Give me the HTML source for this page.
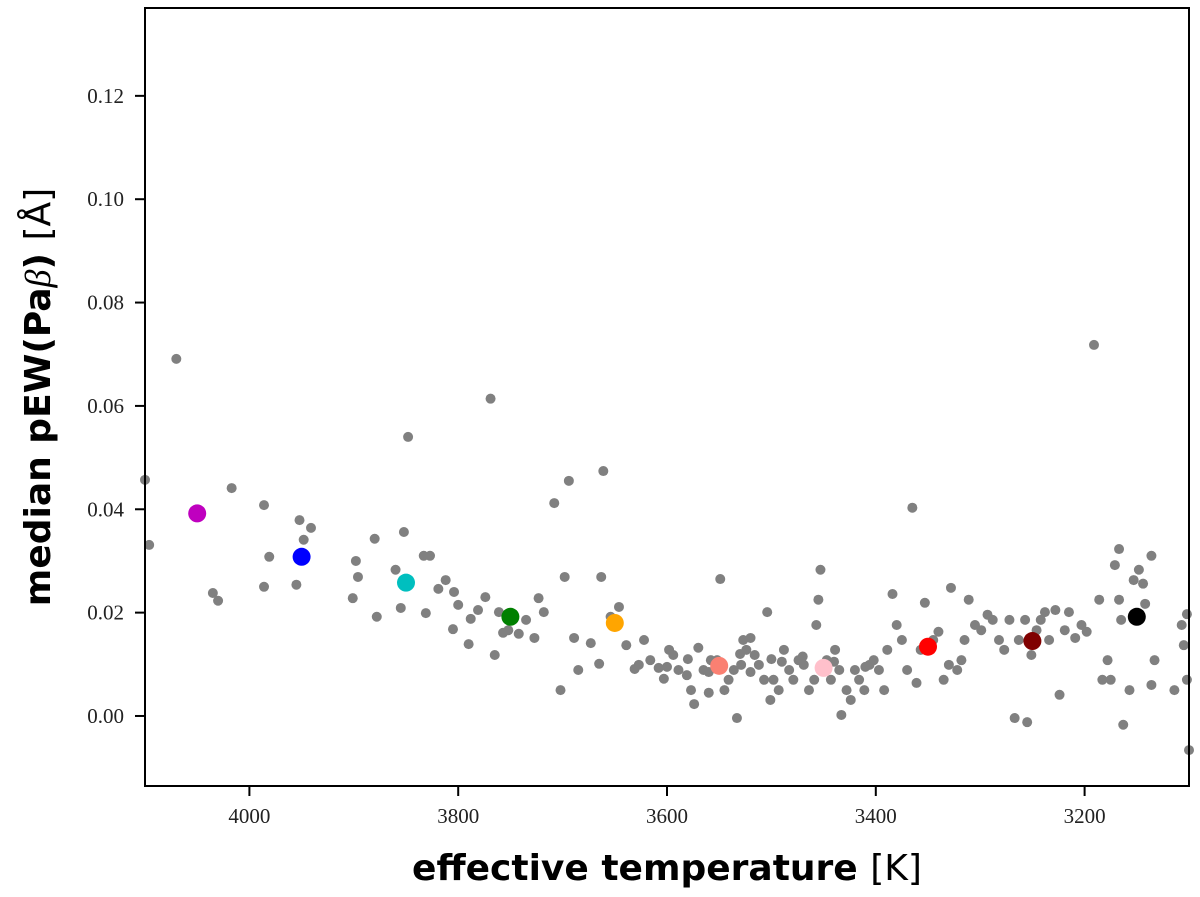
<!DOCTYPE html>
<html><head><meta charset="utf-8"><style>
html,body{margin:0;padding:0;background:#fff;}
svg{display:block;}
.tick{font-family:"Liberation Serif",serif;font-size:21px;fill:#222;}
.lab{font-family:"DejaVu Sans","Liberation Sans",sans-serif;font-weight:bold;fill:#000;}
</style></head><body>
<svg id="chart" width="1200" height="897">
<g id="grey"></g>
<g id="col"></g>
<rect x="145" y="8" width="1044" height="778" fill="none" stroke="#000" stroke-width="2"/>
<g id="axes"></g>
<text class="lab" x="667" y="880" font-size="36" text-anchor="middle">effective temperature <tspan font-weight="normal">[K]</tspan></text>
<text class="lab" transform="translate(50,397) rotate(-90)" font-size="36" text-anchor="middle">median pEW(Pa<tspan font-style="italic" font-weight="normal" font-family="Liberation Serif,serif">β</tspan>) <tspan font-weight="normal">[Å]</tspan></text>
</svg>
<script>
const greyT=[4100,4096,4070,4035,4030,4017,3986,3986,3981,3955,3952,3948,3941,3901,3898,3896,3880,3878,3860,3855,3852,3848,3833,3831,3827,3819,3812,3804,3805,3800,3790,3788,3781,3774,3769,3765,3761,3757,3752,3742,3735,3727,3723,3718,3708,3702,3698,3694,3689,3685,3673,3665,3663,3661,3654,3652,3646,3639,3631,3627,3622,3616,3608,3603,3598,3594,3589,3581,3577,3574,3570,3565,3560,3558,3552,3549,3545,3541,3536,3533,3529,3527,3524,3520,3516,3512,3507,3504,3501,3498,3493,3488,3483,3479,3474,3469,3464,3459,3457,3455,3453,3447,3443,3439,3435,3433,3428,3424,3420,3416,3411,3406,3402,3397,3392,3389,3384,3380,3375,3370,3365,3361,3357,3353,3345,3340,3335,3330,3328,3322,3318,3315,3311,3305,3299,3293,3288,3282,3277,3272,3267,3263,3257,3255,3251,3246,3242,3238,3234,3228,3224,3219,3215,3209,3203,3198,3191,3186,3183,3178,3175,3171,3167,3165,3163,3157,3153,3148,3142,3136,3133,3114,3107,3105,3102,3100,3102,3136,3167,3144,3580,3530,3490,3470,3440,3410,3520,3560,3600,3500];
const greyP=[0.0457,0.0331,0.0691,0.0238,0.0223,0.0441,0.0408,0.0250,0.0308,0.0254,0.0379,0.0341,0.0364,0.0228,0.0300,0.0269,0.0343,0.0192,0.0283,0.0209,0.0356,0.0540,0.0310,0.0199,0.0310,0.0246,0.0263,0.0240,0.0168,0.0215,0.0139,0.0188,0.0205,0.0230,0.0614,0.0118,0.0201,0.0161,0.0166,0.0159,0.0186,0.0151,0.0228,0.0201,0.0412,0.0050,0.0269,0.0455,0.0151,0.0089,0.0141,0.0101,0.0269,0.0474,0.0192,0.0174,0.0211,0.0137,0.0091,0.0099,0.0147,0.0108,0.0093,0.0072,0.0128,0.0118,0.0089,0.0079,0.0050,0.0023,0.0132,0.0089,0.0045,0.0108,0.0108,0.0265,0.0050,0.0070,0.0089,-0.0004,0.0099,0.0147,0.0128,0.0151,0.0118,0.0099,0.0070,0.0201,0.0031,0.0070,0.0050,0.0128,0.0089,0.0070,0.0108,0.0099,0.0050,0.0070,0.0176,0.0225,0.0283,0.0108,0.0070,0.0128,0.0089,0.0002,0.0050,0.0031,0.0089,0.0070,0.0050,0.0099,0.0108,0.0089,0.0050,0.0128,0.0236,0.0176,0.0147,0.0089,0.0403,0.0064,0.0128,0.0219,0.0147,0.0163,0.0070,0.0099,0.0248,0.0089,0.0108,0.0147,0.0225,0.0176,0.0166,0.0196,0.0186,0.0147,0.0128,0.0186,-0.0004,0.0147,0.0186,-0.0012,0.0118,0.0166,0.0186,0.0201,0.0147,0.0205,0.0041,0.0166,0.0201,0.0151,0.0176,0.0163,0.0718,0.0225,0.0070,0.0108,0.0070,0.0292,0.0225,0.0186,-0.0017,0.0050,0.0263,0.0283,0.0217,0.0060,0.0108,0.0050,0.0176,0.0137,0.0197,-0.0066,0.0070,0.0310,0.0323,0.0256,0.0110,0.0120,0.0105,0.0115,0.0105,0.0095,0.0085,0.0085,0.0095,0.0110];
const binT=[4050,3950,3850,3750,3650,3550,3450,3350,3250,3150];
const binP=[0.0392,0.0308,0.0258,0.0192,0.0180,0.0097,0.0093,0.0134,0.0145,0.0192];
const binColors=['#bf00bf','#0000ff','#00bfbf','#008000','#ffa500','#fa8072','#ffc0cb','#ff0000','#800000','#000000'];
const xTicks=[4000,3800,3600,3400,3200];
const yTicks=[0.00,0.02,0.04,0.06,0.08,0.10,0.12];
const X0=145,X1=1189,Y0=786,Y1=8,TMAX=4100,TMIN=3100,PMIN=-0.01355,PMAX=0.137;
const sx=t=>X0+(TMAX-t)/(TMAX-TMIN)*(X1-X0);
const sy=p=>Y0-(p-PMIN)/(PMAX-PMIN)*(Y0-Y1);
const NS='http://www.w3.org/2000/svg';
function mk(tag,attrs,parent){const e=document.createElementNS(NS,tag);for(const k in attrs)e.setAttribute(k,attrs[k]);parent.appendChild(e);return e;}
const g=document.getElementById('grey'),c=document.getElementById('col'),ax=document.getElementById('axes');
greyT.forEach((t,i)=>{const e=mk('circle',{cx:sx(t),cy:sy(greyP[i]),r:5,fill:'#808080'},g);

});
binT.forEach((t,i)=>{const e=mk('circle',{cx:sx(t),cy:sy(binP[i]),r:9,fill:binColors[i]},c);

});
xTicks.forEach(t=>{const x=sx(t);mk('line',{x1:x,x2:x,y1:Y0,y2:Y0+10,stroke:'#000','stroke-width':2},ax);
const e=mk('text',{x:x,y:Y0+37,'text-anchor':'middle',class:'tick'},ax);e.textContent=String(t);

});
yTicks.forEach(p=>{const y=sy(p);mk('line',{x1:X0-10,x2:X0,y1:y,y2:y,stroke:'#000','stroke-width':2},ax);
const e=mk('text',{x:X0-21,y:y+7,'text-anchor':'end',class:'tick'},ax);e.textContent=p.toFixed(2);

});
</script>
</body></html>
